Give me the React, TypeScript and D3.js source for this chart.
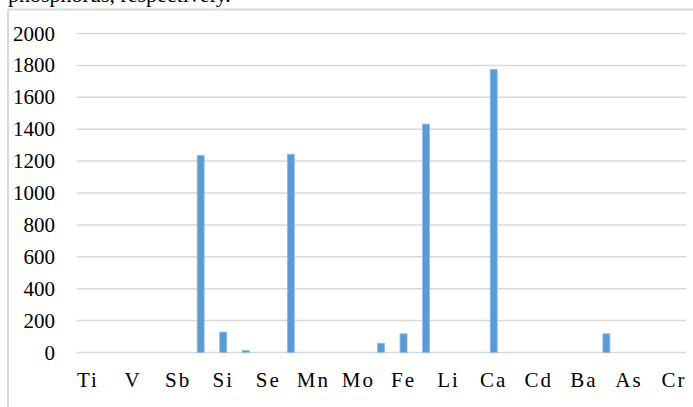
import React from "react";
import * as d3 from "d3";

// 27 category slots; only every other label is shown on the axis
const visibleLabels = ["Ti", "V", "Sb", "Si", "Se", "Mn", "Mo", "Fe", "Li", "Ca", "Cd", "Ba", "As", "Cr"];
const slotCount = 27;
const values = [0, 0, 0, 0, 0, 1235, 128, 12, 0, 1243, 0, 0, 0, 58, 117, 1432, 0, 0, 1775, 0, 0, 0, 0, 117, 0, 0, 0];
const yTicks = [0, 200, 400, 600, 800, 1000, 1200, 1400, 1600, 1800, 2000];

const W = 693;
const H = 407;
const left = 76.7;
const right = 685.3;
const top = 33.5;
const bottom = 352.5;
const font = "'Liberation Serif', 'Times New Roman', serif";

export default function App() {
  const x = d3.scaleBand<number>().domain(d3.range(slotCount)).range([left, right]).paddingInner(0).paddingOuter(0);
  const y = d3.scaleLinear().domain([0, 2000]).range([bottom, top]);
  const barW = 7;

  return (
    <svg width={W} height={H} style={{ position: "absolute", left: 0, top: 0, background: "#fff" }}>
      <rect x={0} y={0} width={W} height={H} fill="#fff" />
      <text x={8} y={2} fontFamily={font} fontSize={22} fill="#000">phosphorus, respectively.</text>
      <line x1={8} x2={W} y1={9.5} y2={9.5} stroke="#d9d9d9" strokeWidth={2} />
      <line x1={8} x2={8} y1={9.5} y2={H} stroke="#d9d9d9" strokeWidth={2} />
      {yTicks.map((t) => (
        <g key={t}>
          <line x1={left} x2={right + 1} y1={y(t)} y2={y(t)} stroke="#d9d9d9" strokeWidth={1.5} />
          <text x={55} y={y(t) + 7} textAnchor="end" fontFamily={font} fontSize={21} fill="#000">{t}</text>
        </g>
      ))}
      {values.map((v, i) =>
        v > 0 ? (
          <rect
            key={i}
            x={(x(i) as number) + x.bandwidth() / 2 - barW / 2}
            y={y(v)}
            width={barW}
            height={bottom - y(v)}
            fill="#5b9bd5"
            stroke="#8fbbe6"
            strokeWidth={0.8}
          />
        ) : null
      )}
      {visibleLabels.map((lab, k) => (
        <text
          key={lab}
          x={(x(k * 2) as number) + x.bandwidth() / 2}
          y={387}
          textAnchor="middle"
          fontFamily={font}
          fontSize={21}
          letterSpacing={2}
          fill="#000"
        >
          {lab}
        </text>
      ))}
    </svg>
  );
}
